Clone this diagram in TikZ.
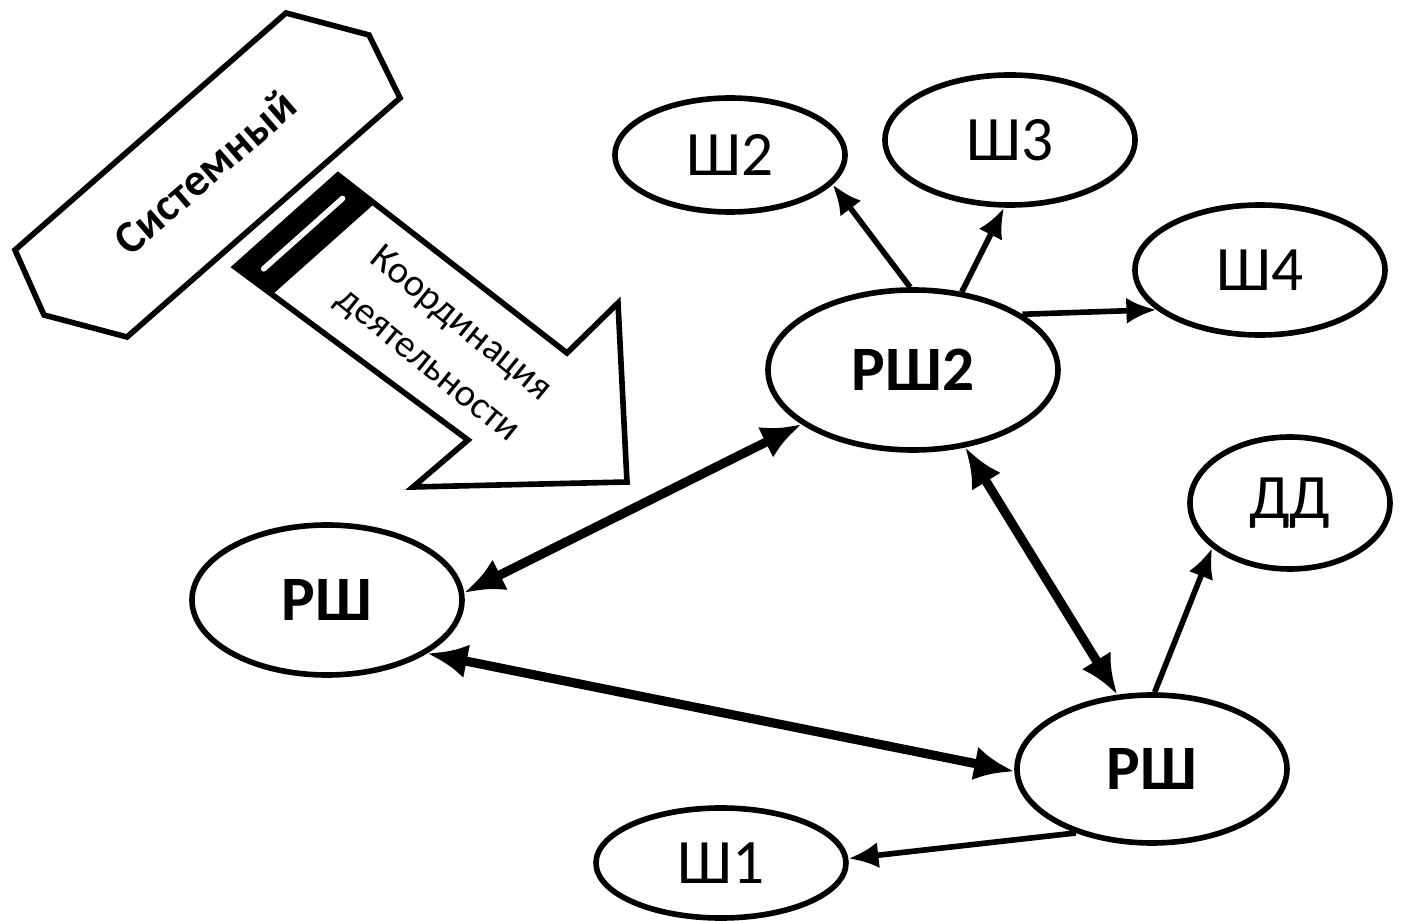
\documentclass[tikz,border=0pt]{standalone}
\usepackage{fontspec}
\setmainfont{Carlito}
\usetikzlibrary{arrows.meta,calc,shapes.geometric}

\begin{document}
\begin{tikzpicture}[
    shnode/.style={draw,ellipse,line width=1.6pt,inner sep=0pt,font=\fontsize{18}{20}\selectfont},
    rshnode/.style={shnode,font=\fontsize{18}{20}\selectfont\bfseries},
    link/.style={line width=1.6pt,-{Latex[length=3mm,width=2.6mm]}},
    biglink/.style={line width=2.6pt,{Latex[length=4mm,width=3.4mm]}-{Latex[length=4mm,width=3.4mm]}}
  ]
  \useasboundingbox (0,0) rectangle (14.13,-9.21);

  % hexagon
  \draw[line width=1.6pt,line join=miter] (2.86,-0.13) -- (3.69,-0.35) -- (4.00,-0.98)
    -- (1.27,-3.37) -- (0.44,-3.15) -- (0.15,-2.50) -- cycle;
  \node[rotate=41,font=\fontsize{13}{15}\selectfont\bfseries] (systext) at (2.05,-1.72) {Системный};

  % block arrow
  \coordinate (t1) at (3.38,-1.75);
  \coordinate (nu) at (5.67,-3.53);
  \coordinate (ht) at (6.18,-3.03);
  \coordinate (tip) at (6.27,-4.82);
  \coordinate (hb) at (4.13,-4.87);
  \coordinate (nl) at (4.68,-4.40);
  \coordinate (b1) at (2.35,-2.67);
  \coordinate (t2) at ($(t1)!0.16!(nu)$);
  \coordinate (b2) at ($(b1)!0.16!(nl)$);
  \draw[line width=1.6pt,line join=miter] (t1) -- (nu) -- (ht) -- (tip) -- (hb) -- (nl) -- (b1) -- cycle;
  \fill (t1) -- (t2) -- (b2) -- (b1) -- cycle;
  \draw[white,line width=1.6pt,line cap=round,shorten <=0.16cm,shorten >=0.16cm]
    ($(t1)!0.45!(t2)$) -- ($(b1)!0.45!(b2)$);
  \node[rotate=-39,align=center,font=\fontsize{11}{15}\selectfont] (coordtext) at (4.44,-3.45)
    {Координация\\деятельности};

  % nodes
  \node[shnode,minimum width=2.30cm,minimum height=1.14cm] (sh2) at (7.30,-1.55) {Ш2};
  \node[shnode,minimum width=2.50cm,minimum height=1.30cm] (sh3) at (10.10,-1.40) {Ш3};
  \node[shnode,minimum width=2.50cm,minimum height=1.30cm] (sh4) at (12.60,-2.70) {Ш4};
  \node[rshnode,minimum width=2.90cm,minimum height=1.60cm] (rsh2) at (9.13,-3.70) {РШ2};
  \node[shnode,minimum width=2.00cm,minimum height=1.32cm] (dd) at (12.90,-5.03) {ДД};
  \node[rshnode,minimum width=2.70cm,minimum height=1.50cm] (rshl) at (3.27,-6.00) {РШ};
  \node[rshnode,minimum width=2.70cm,minimum height=1.48cm] (rshr) at (11.52,-7.69) {РШ};
  \node[shnode,minimum width=2.50cm,minimum height=1.10cm] (sh1) at (7.21,-8.63) {Ш1};

  % arrows
  \draw[link] (rsh2.92) -- (sh2.-16);
  \draw[link] (rsh2.58) -- (sh3.-95);
  \draw[link] (rsh2.27) -- (sh4.201);
  \draw[biglink] (rshl.3) -- (rsh2.206);
  \draw[biglink] (rsh2.-56) -- (rshr.115);
  \draw[biglink] (rshl.-28) -- (rshr.181);
  \draw[link] (rshr.88) -- (dd.210);
  \draw[link] (rshr.220) -- (sh1.2);
\end{tikzpicture}
\end{document}
